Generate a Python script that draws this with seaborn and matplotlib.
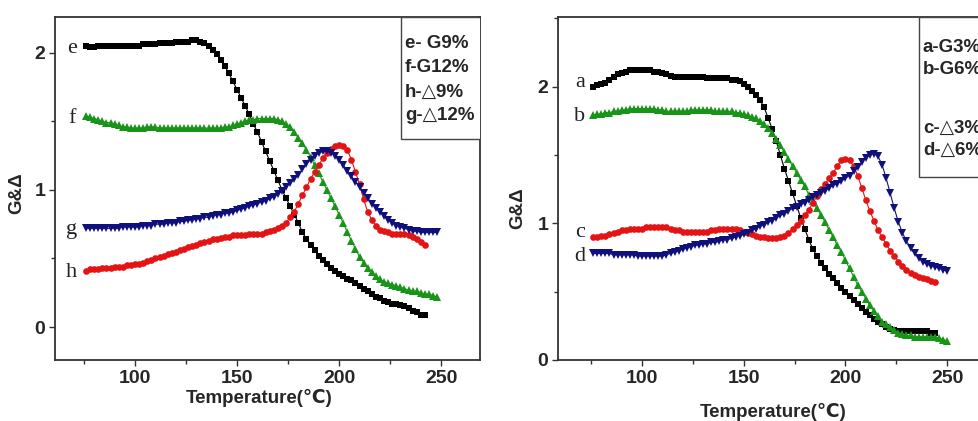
import numpy as np
import pandas as pd
import matplotlib
matplotlib.use("Agg")
import matplotlib.pyplot as plt
from matplotlib.ticker import MultipleLocator
from matplotlib.patches import Rectangle
import seaborn as sns

# ---------------- data ----------------
temps = [76, 78, 80, 82, 84, 86, 88, 90, 92, 94, 96, 98, 100, 102, 104, 106, 108, 110,
         112, 114, 116, 118, 120, 122, 124, 126, 128, 130, 132, 134, 136, 138, 140, 142,
         144, 146, 148, 150, 152, 154, 156, 158, 160, 162, 164, 166, 168, 170, 172, 174,
         176, 178, 180, 182, 184, 186, 188, 190, 192, 194, 196, 198, 200, 202, 204, 206,
         208, 210, 212, 214, 216, 218, 220, 222, 224, 226, 228, 230, 232, 234, 236, 238,
         240, 242, 244, 246, 248, 250]

# left panel
e_G9 = [2.05, 2.04, 2.04, 2.05, 2.05, 2.05, 2.05, 2.05, 2.05, 2.05, 2.05, 2.05, 2.05, 2.05,
        2.06, 2.06, 2.06, 2.06, 2.07, 2.07, 2.07, 2.07, 2.08, 2.08, 2.08, 2.08, 2.09, 2.09,
        2.08, 2.07, 2.05, 2.02, 1.99, 1.95, 1.90, 1.85, 1.79, 1.73, 1.67, 1.61, 1.55, 1.48,
        1.42, 1.35, 1.28, 1.21, 1.14, 1.07, 1.00, 0.94, 0.88, 0.82, 0.76, 0.69, 0.64, 0.60,
        0.56, 0.52, 0.49, 0.46, 0.43, 0.41, 0.39, 0.37, 0.35, 0.34, 0.32, 0.30, 0.28, 0.26,
        0.24, 0.22, 0.21, 0.19, 0.18, 0.17, 0.165, 0.16, 0.15, 0.14, 0.12, 0.11, 0.09, 0.085]
f_G12 = [1.54, 1.53, 1.52, 1.51, 1.50, 1.49, 1.49, 1.48, 1.47, 1.46, 1.46, 1.45, 1.45, 1.45,
         1.45, 1.46, 1.46, 1.46, 1.45, 1.45, 1.45, 1.45, 1.45, 1.45, 1.45, 1.45, 1.45, 1.45,
         1.45, 1.45, 1.45, 1.45, 1.45, 1.45, 1.46, 1.46, 1.47, 1.48, 1.49, 1.50, 1.51, 1.51,
         1.52, 1.52, 1.52, 1.52, 1.52, 1.51, 1.50, 1.48, 1.46, 1.42, 1.38, 1.34, 1.29, 1.24,
         1.18, 1.12, 1.06, 1.00, 0.94, 0.88, 0.82, 0.76, 0.69, 0.63, 0.57, 0.51, 0.47, 0.43,
         0.40, 0.37, 0.35, 0.33, 0.32, 0.31, 0.30, 0.29, 0.28, 0.27, 0.26, 0.26, 0.25, 0.24,
         0.24, 0.23, 0.22]
h_D9 = [0.41, 0.42, 0.42, 0.42, 0.43, 0.43, 0.43, 0.44, 0.44, 0.44, 0.45, 0.45, 0.46, 0.46,
        0.47, 0.48, 0.49, 0.50, 0.51, 0.52, 0.53, 0.54, 0.55, 0.56, 0.57, 0.58, 0.59, 0.60,
        0.61, 0.62, 0.63, 0.64, 0.64, 0.65, 0.66, 0.66, 0.67, 0.67, 0.67, 0.67, 0.68, 0.68,
        0.68, 0.68, 0.69, 0.70, 0.71, 0.72, 0.74, 0.76, 0.80, 0.84, 0.90, 0.96, 1.02, 1.08,
        1.13, 1.18, 1.23, 1.27, 1.30, 1.32, 1.33, 1.32, 1.29, 1.22, 1.13, 1.04, 0.93, 0.84,
        0.78, 0.74, 0.71, 0.70, 0.69, 0.68, 0.68, 0.68, 0.68, 0.67, 0.66, 0.64, 0.62, 0.60]
g_D12 = [0.72, 0.72, 0.72, 0.72, 0.72, 0.72, 0.72, 0.72, 0.72, 0.73, 0.73, 0.73, 0.73, 0.73,
         0.74, 0.74, 0.74, 0.75, 0.75, 0.75, 0.76, 0.76, 0.76, 0.77, 0.77, 0.78, 0.78, 0.79,
         0.79, 0.80, 0.80, 0.81, 0.82, 0.82, 0.83, 0.83, 0.84, 0.85, 0.86, 0.87, 0.88, 0.89,
         0.90, 0.91, 0.92, 0.94, 0.95, 0.97, 0.99, 1.02, 1.05, 1.08, 1.11, 1.15, 1.19, 1.22,
         1.25, 1.27, 1.28, 1.28, 1.27, 1.25, 1.22, 1.18, 1.14, 1.10, 1.06, 1.02, 0.98, 0.94,
         0.90, 0.87, 0.84, 0.81, 0.78, 0.76, 0.74, 0.73, 0.72, 0.71, 0.70, 0.70, 0.69, 0.69,
         0.69, 0.69, 0.69]

# right panel
a_G3 = [2.00, 2.01, 2.02, 2.03, 2.05, 2.07, 2.09, 2.10, 2.11, 2.12, 2.12, 2.12, 2.12, 2.12,
        2.12, 2.11, 2.11, 2.10, 2.09, 2.08, 2.07, 2.07, 2.07, 2.07, 2.07, 2.07, 2.07, 2.07,
        2.06, 2.06, 2.06, 2.06, 2.06, 2.06, 2.05, 2.05, 2.04, 2.02, 2.00, 1.97, 1.94, 1.90,
        1.85, 1.77, 1.69, 1.60, 1.50, 1.40, 1.31, 1.22, 1.13, 1.04, 0.96, 0.88, 0.81, 0.76,
        0.71, 0.67, 0.63, 0.60, 0.56, 0.53, 0.50, 0.47, 0.44, 0.41, 0.38, 0.35, 0.33, 0.30,
        0.28, 0.26, 0.24, 0.23, 0.22, 0.21, 0.21, 0.21, 0.21, 0.21, 0.21, 0.21, 0.21, 0.20,
        0.195]
b_G6 = [1.79, 1.80, 1.80, 1.81, 1.81, 1.82, 1.82, 1.83, 1.83, 1.84, 1.84, 1.84, 1.84, 1.84,
        1.84, 1.84, 1.83, 1.83, 1.82, 1.82, 1.82, 1.82, 1.82, 1.82, 1.83, 1.83, 1.83, 1.83,
        1.83, 1.83, 1.82, 1.82, 1.82, 1.82, 1.82, 1.81, 1.81, 1.80, 1.79, 1.78, 1.77, 1.75,
        1.73, 1.70, 1.66, 1.62, 1.57, 1.52, 1.47, 1.42, 1.37, 1.32, 1.27, 1.21, 1.16, 1.11,
        1.06, 1.01, 0.95, 0.90, 0.84, 0.79, 0.73, 0.67, 0.61, 0.55, 0.50, 0.45, 0.40, 0.36,
        0.32, 0.28, 0.26, 0.24, 0.22, 0.20, 0.19, 0.18, 0.18, 0.17, 0.17, 0.17, 0.17, 0.17,
        0.17, 0.16, 0.15, 0.14]
c_D3 = [0.90, 0.90, 0.91, 0.91, 0.92, 0.93, 0.94, 0.95, 0.95, 0.96, 0.96, 0.96, 0.96, 0.97,
        0.97, 0.97, 0.97, 0.97, 0.97, 0.96, 0.95, 0.95, 0.94, 0.94, 0.94, 0.94, 0.94, 0.94,
        0.94, 0.95, 0.95, 0.96, 0.96, 0.96, 0.96, 0.96, 0.95, 0.94, 0.93, 0.92, 0.91, 0.90,
        0.90, 0.89, 0.89, 0.89, 0.90, 0.91, 0.93, 0.96, 0.99, 1.02, 1.06, 1.10, 1.15, 1.20,
        1.25, 1.29, 1.33, 1.37, 1.42, 1.46, 1.47, 1.46, 1.42, 1.35, 1.26, 1.17, 1.09, 1.02,
        0.95, 0.90, 0.85, 0.80, 0.76, 0.72, 0.69, 0.66, 0.64, 0.62, 0.61, 0.60, 0.59, 0.58,
        0.57]
d_D6 = [0.78, 0.78, 0.78, 0.78, 0.78, 0.77, 0.77, 0.77, 0.77, 0.77, 0.77, 0.76, 0.76, 0.76,
        0.76, 0.76, 0.76, 0.76, 0.77, 0.78, 0.79, 0.80, 0.81, 0.82, 0.83, 0.84, 0.84, 0.85,
        0.85, 0.86, 0.86, 0.87, 0.88, 0.88, 0.89, 0.90, 0.91, 0.92, 0.93, 0.95, 0.96, 0.98,
        0.99, 1.01, 1.02, 1.04, 1.06, 1.07, 1.09, 1.11, 1.12, 1.14, 1.15, 1.17, 1.19, 1.21,
        1.22, 1.24, 1.26, 1.28, 1.29, 1.31, 1.33, 1.35, 1.38, 1.41, 1.45, 1.48, 1.50, 1.51,
        1.49, 1.43, 1.33, 1.22, 1.11, 1.01, 0.93, 0.87, 0.82, 0.78, 0.75, 0.72, 0.70, 0.69,
        0.68, 0.67, 0.66, 0.65]

left_series = [("e", e_G9, "s"), ("f", f_G12, "^"), ("h", h_D9, "o"), ("g", g_D12, "v")]
right_series = [("a", a_G3, "s"), ("b", b_G6, "^"), ("c", c_D3, "o"), ("d", d_D6, "v")]
left_legend = ["e- G9%", "f-G12%", "h-\u25b39%", "g-\u25b312%"]
right_legend = ["a-G3%", "b-G6%", "c-\u25b33%", "d-\u25b36%"]
left_curve_labels = [("e", 69, 2.03), ("f", 69, 1.52), ("g", 69, 0.71), ("h", 69, 0.40)]
right_curve_labels = [("a", 69.5, 2.03), ("b", 69.5, 1.78), ("c", 69.5, 0.93), ("d", 69.5, 0.76)]
x_ticks = [100, 150, 200, 250]

# ---------------- style ----------------
sns.set_theme(style="ticks")
plt.rcParams["font.family"] = ["Liberation Sans", "DejaVu Sans"]

colors = {"s": "#000000", "^": "#189418", "o": "#e41414", "v": "#10107c"}
msizes = {"s": 4.4, "^": 5.2, "o": 4.8, "v": 5.2}

W, H = 979, 421
fig = plt.figure(figsize=(W / 100, H / 100), dpi=100)
axL = fig.add_axes([55 / W, 1 - 360 / H, 425 / W, 343 / H])
axR = fig.add_axes([558 / W, 1 - 360 / H, 438 / W, 343 / H])


def draw(ax, series, xlim, ylim, legend_lines, box, line_fracs, text_x,
         curve_labels, xlabel_pos, ylabel_pos):
    for name, vals, mk in series:
        df = pd.DataFrame({"T": temps[:len(vals)], "v": vals})
        sns.lineplot(data=df, x="T", y="v", ax=ax, color=colors[mk], linewidth=0.8,
                     marker=mk, markersize=msizes[mk], markeredgewidth=0,
                     markerfacecolor=colors[mk], sort=True, estimator=None)
    ax.set_xlim(*xlim)
    ax.set_ylim(*ylim)
    ax.set_xticks(x_ticks)
    ax.xaxis.set_minor_locator(MultipleLocator(25))
    ax.set_yticks([0, 1, 2])
    ax.yaxis.set_minor_locator(MultipleLocator(0.5))
    ax.tick_params(axis="both", which="major", direction="out", length=4, width=1,
                   labelsize=14, color="#333333", pad=3)
    ax.tick_params(axis="both", which="minor", direction="out", length=3, width=1,
                   color="#333333")
    for lbl in ax.get_xticklabels() + ax.get_yticklabels():
        lbl.set_fontweight("bold")
    for sp in ax.spines.values():
        sp.set_visible(True)
        sp.set_linewidth(1.3)
        sp.set_color("#333333")
    ax.set_xlabel("Temperature(\u2103)", fontsize=13.5, fontweight="bold")
    ax.xaxis.label.set_va("center")
    ax.xaxis.set_label_coords(*xlabel_pos)
    ax.set_ylabel("G&\u0394", fontsize=13.5, fontweight="bold")
    ax.yaxis.label.set_va("center")
    ax.yaxis.set_label_coords(*ylabel_pos)
    # legend-like text box attached to the top frame
    x0, y0 = box
    ax.add_patch(Rectangle((x0, y0), 1.2 - x0, 1 - y0, transform=ax.transAxes,
                           facecolor="white", edgecolor="#444444", linewidth=1.0,
                           zorder=5, clip_on=True))
    for txt, yf in zip(legend_lines, line_fracs):
        ax.text(text_x, yf, txt, transform=ax.transAxes, ha="left", va="center",
                fontsize=13.5, fontweight="bold", zorder=6,
                family=["Liberation Sans", "DejaVu Sans"])
    for t, x, y in curve_labels:
        ax.text(x, y, t, ha="center", va="center", fontsize=16,
                family=["Liberation Serif", "DejaVu Serif"], color="#222222")


def yf(px):
    return (360 - px) / 343


draw(axL, left_series, (60.8, 269), (-0.24, 2.26), left_legend,
     ((401 - 55) / 425, yf(139)), [yf(44), yf(68), yf(92), yf(116)], (405 - 55) / 425,
     left_curve_labels, ((259 - 55) / 425, yf(398)), ((17 - 55) / 425, yf(193)))
draw(axR, right_series, (58.7, 274), (0, 2.51), right_legend,
     ((919 - 558) / 438, yf(177)), [yf(48), yf(70), yf(128), yf(150)], (923 - 558) / 438,
     right_curve_labels, ((773 - 558) / 438, yf(412)), ((518 - 558) / 438, yf(208)))

fig.savefig("out.png", dpi=100)
